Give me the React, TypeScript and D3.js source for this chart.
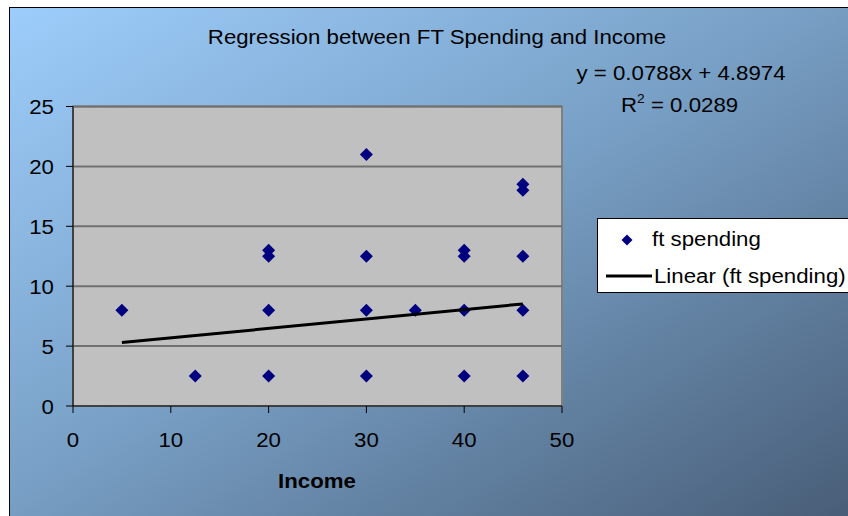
import React from "react";
import * as d3 from "d3";

const incomeValues: number[] = [5, 12.5, 20, 20, 20, 20, 30, 30, 30, 30, 35, 40, 40, 40, 40, 46, 46, 46, 46, 46];
const spendingValues: number[] = [8, 2.5, 13, 12.5, 8, 2.5, 21, 12.5, 8, 2.5, 8, 13, 12.5, 8, 2.5, 18.5, 18, 12.5, 8, 2.5];
const xTicks: number[] = [0, 10, 20, 30, 40, 50];
const yTicks: number[] = [0, 5, 10, 15, 20, 25];
const slope = 0.0788;
const intercept = 4.8974;
const rSquared = "0.0289";
const titleText = "Regression between FT Spending and Income";
const xTitle = "Income";
const seriesName = "ft spending";
const trendName = "Linear (ft spending)";

export default function App() {
  const W = 848, H = 516;
  const left = 73, right = 562, top = 106.5, bottom = 406;
  const x = d3.scaleLinear().domain([0, 50]).range([left, right]);
  const y = d3.scaleLinear().domain([0, 25]).range([bottom, top]);
  const xMin = d3.min(incomeValues)!, xMax = d3.max(incomeValues)!;
  const line = d3.line<number>().x(d => x(d)).y(d => y(slope * d + intercept));
  const diamond = (cx: number, cy: number, r = 6.5) =>
    `M${cx},${cy - r}L${cx + r},${cy}L${cx},${cy + r}L${cx - r},${cy}Z`;
  const font = "Arial, 'Liberation Sans', sans-serif";
  const fs = 21;
  const sx = 1.06;
  const T = (props: any) => {
    const { x: tx, y: ty, anchor, children, ...rest } = props;
    return (
      <g transform={`translate(${tx},${ty}) scale(${sx},1)`}>
        <text x={0} y={0} textAnchor={anchor || "start"} fontSize={fs} fill="#000" {...rest}>{children}</text>
      </g>
    );
  };
  return (
    <svg width={W} height={H} style={{ position: "absolute", left: 0, top: 0 }} fontFamily={font}>
      <defs>
        <linearGradient id="bg" x1="0" y1="0" x2="1" y2="1">
          <stop offset="0%" stopColor="#9dcdfb" />
          <stop offset="45%" stopColor="#7aa2c8" />
          <stop offset="100%" stopColor="#475c76" />
        </linearGradient>
      </defs>
      <rect x={0} y={0} width={W} height={H} fill="#ffffff" />
      <rect x={9.5} y={7.5} width={W} height={H} fill="url(#bg)" stroke="#000" strokeWidth={1} />
      <rect x={left} y={top} width={right - left} height={bottom - top} fill="#c0c0c0" stroke="#808080" strokeWidth={2} />
      {yTicks.filter(t => t > 0).map(t => (
        <line key={t} x1={left} x2={right} y1={y(t)} y2={y(t)} stroke="#707070" strokeWidth={2} />
      ))}
      <line x1={left} x2={left} y1={top} y2={bottom} stroke="#000" strokeWidth={1} />
      <line x1={left} x2={right} y1={bottom} y2={bottom} stroke="#000" strokeWidth={1} />
      {yTicks.map(t => (
        <g key={t}>
          <line x1={left - 7} x2={left} y1={y(t)} y2={y(t)} stroke="#000" />
          <T x={54} y={y(t) + 7.5} anchor="end">{t}</T>
        </g>
      ))}
      {xTicks.map(t => (
        <g key={t}>
          <line x1={x(t)} x2={x(t)} y1={bottom} y2={bottom + 7} stroke="#000" />
          <T x={x(t)} y={447} anchor="middle">{t}</T>
        </g>
      ))}
      {incomeValues.map((v, i) => (
        <path key={i} d={diamond(x(v), y(spendingValues[i]))} fill="#000080" />
      ))}
      <path d={line([xMin, xMax])!} stroke="#000" strokeWidth={3} fill="none" />
      <T x={437} y={44} anchor="middle">{titleText}</T>
      <T x={681} y={80} anchor="middle">{`y = ${slope}x + ${intercept}`}</T>
      <g transform={`translate(621,112) scale(${sx},1)`}>
        <text x={0} y={0} fontSize={fs} fill="#000">
          R<tspan dy={-9} fontSize={13}>2</tspan><tspan dy={9}>{` = ${rSquared}`}</tspan>
        </text>
      </g>
      <T x={317} y={488} anchor="middle" fontWeight="bold">{xTitle}</T>
      <rect x={597.5} y={218.5} width={280} height={74} fill="#fff" stroke="#000" strokeWidth={1} />
      <path d={diamond(627, 240, 5.5)} fill="#000080" />
      <T x={652} y={246}>{seriesName}</T>
      <line x1={606} x2={652} y1={276} y2={276} stroke="#000" strokeWidth={3} />
      <T x={654} y={283}>{trendName}</T>
    </svg>
  );
}
